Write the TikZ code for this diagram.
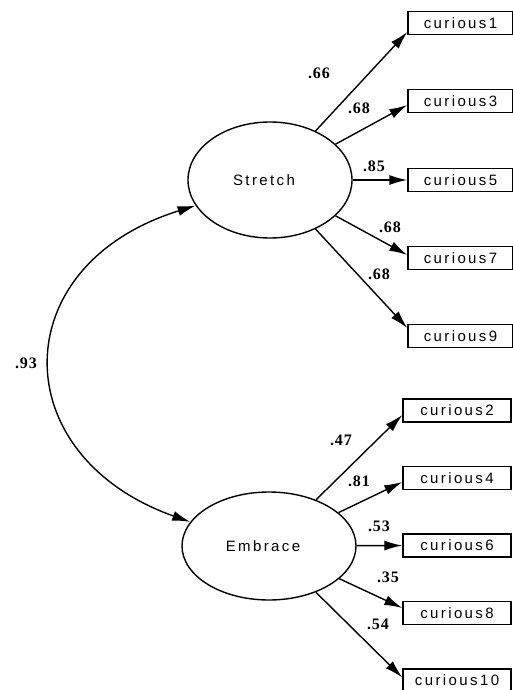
\documentclass[tikz,border=0pt]{standalone}
\usepackage{fontspec}
\usepackage{tikz}
\usetikzlibrary{positioning,shapes.geometric,arrows.meta}
\newfontfamily\boxfont[LetterSpace=16]{Liberation Sans}
\newfontfamily\coeffont[LetterSpace=6]{Liberation Serif}

\begin{document}
\begin{tikzpicture}[x=1pt,y=-1pt,
    factor/.style={draw,ellipse,line width=1.4pt,inner sep=0pt,font=\boxfont\fontsize{15}{17}\selectfont},
    itembox/.style={draw,line width=1.4pt,inner sep=0pt,minimum height=23pt,font=\boxfont\fontsize{15}{17}\selectfont},
    coef/.style={font=\coeffont\bfseries\fontsize{16}{18}\selectfont,inner sep=0pt},
    path/.style={line width=1.4pt,-{Latex[length=18pt,width=10pt]}}]
            \useasboundingbox (0,0) rectangle (512,690);
            \node[factor,minimum width=164pt,minimum height=116pt] (stretch) at (270,180) {Stretch\hspace*{12pt}};
            \node[factor,minimum width=174pt,minimum height=108pt] (embrace) at (269,546) {Embrace\hspace*{12pt}};
            \foreach \i/\y in {1/23,3/101,5/180,7/258,9/336} {
                \node[itembox,minimum width=105pt] (c\i) at (460.5,\y) {curious\i};
        }
            \foreach \i/\y in {2/410.5,4/478,6/545.5,8/613,10/680.5} {
                \node[itembox,minimum width=108pt] (c\i) at (457,\y) {curious\i};
        }
            \foreach \i/\dy in {1/-9,3/-4,5/0,7/3,9/8} {
                \draw[path] (stretch) -- ([yshift=\dy pt]c\i.west);
        }
            \foreach \i/\dy in {2/-4.5,4/-4,6/0,8/5,10/3} {
                \draw[path] (embrace) -- ([yshift=\dy pt]c\i.west);
        }
        \draw[line width=1.4pt,{Latex[length=18pt,width=10pt]}-{Latex[length=18pt,width=10pt]}]
            (stretch.199) .. controls (4,265) and (4,456) .. (embrace.163);

            \foreach \i/\v/\x/\y in {1/.66/319/73,3/.68/359/108,5/.85/374/166,7/.68/390/227,9/.68/379/274,
                2/.47/341/440,4/.81/359/481,6/.53/379/526,8/.35/388/577,10/.54/378/624} {
                \node[coef] (w\i) at (\x,\y) {\v};
        }
        \node[coef] (r) at (26,363) {.93};
        \end{tikzpicture}
\end{document}
